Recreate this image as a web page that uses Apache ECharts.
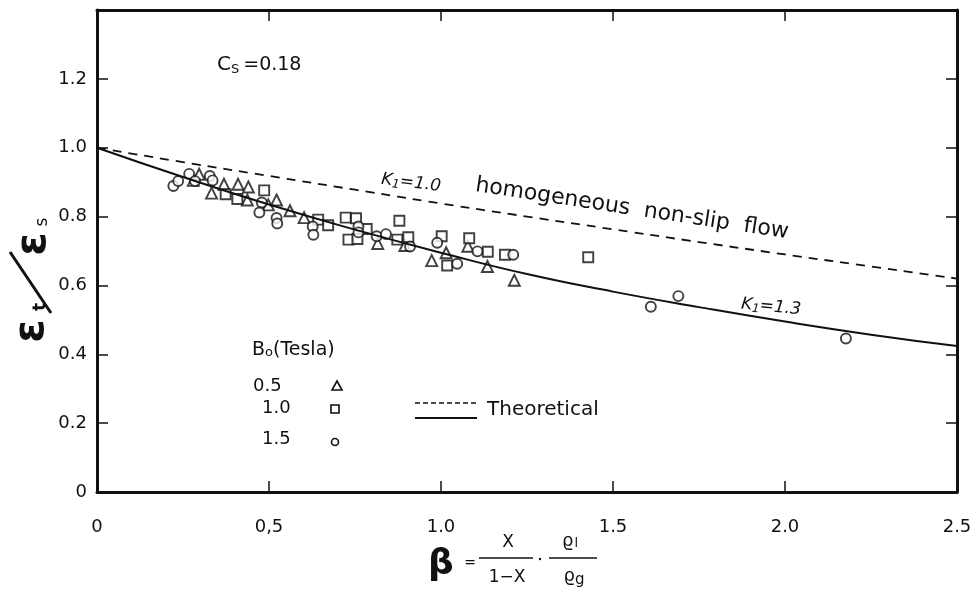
<!DOCTYPE html>
<html>
<head>
<meta charset="utf-8">
<title>Void fraction ratio vs beta</title>
<script src="https://cdn.jsdelivr.net/npm/echarts@6/dist/echarts.min.js"></script>
<style>
  html, body { margin: 0; padding: 0; background: #fff; }
  #chart { width: 976px; height: 591px; }
</style>
</head>
<body>
<div id="chart"></div>
<script>
// Tick labels
const xTickLabels = ['0', '0,5', '1.0', '1.5', '2.0', '2.5'];
const yTickLabels = ['0', '0.2', '0.4', '0.6', '0.8', '1.0', '1.2', ''];

// Measured points [beta, eps_t/eps_s] for each magnetic field B0 (Tesla)
const b05 = [
  [0.280, 0.905], [0.297, 0.923], [0.333, 0.868], [0.369, 0.894], [0.410, 0.894],
  [0.440, 0.886], [0.437, 0.848], [0.498, 0.834], [0.522, 0.848], [0.561, 0.817],
  [0.602, 0.797], [0.816, 0.722], [0.895, 0.716], [0.973, 0.672], [1.015, 0.695],
  [1.078, 0.714], [1.135, 0.655], [1.213, 0.615]
];
const b10 = [
  [0.374, 0.865], [0.408, 0.851], [0.486, 0.876], [0.643, 0.791], [0.672, 0.775],
  [0.723, 0.797], [0.753, 0.795], [0.731, 0.733], [0.757, 0.735], [0.784, 0.764],
  [0.879, 0.788], [0.873, 0.733], [0.905, 0.740], [1.002, 0.743], [1.018, 0.658],
  [1.082, 0.737], [1.136, 0.698], [1.186, 0.689], [1.428, 0.682]
];
const b15 = [
  [0.222, 0.889], [0.236, 0.903], [0.268, 0.924], [0.285, 0.903], [0.328, 0.918],
  [0.336, 0.905], [0.479, 0.841], [0.472, 0.812], [0.522, 0.796], [0.524, 0.780],
  [0.627, 0.771], [0.629, 0.747], [0.760, 0.771], [0.760, 0.754], [0.813, 0.743],
  [0.840, 0.749], [0.910, 0.713], [0.989, 0.724], [1.047, 0.663], [1.106, 0.699],
  [1.210, 0.689], [1.610, 0.538], [1.690, 0.569], [2.177, 0.446]
];

// Theoretical curves
const curveBeta = [0, 0.25, 0.5, 0.75, 1.0, 1.25, 1.5, 1.75, 2.0, 2.25, 2.5];
const k10 = [1.0, 0.958, 0.918, 0.878, 0.838, 0.800, 0.763, 0.726, 0.690, 0.655, 0.620];
const k13 = [1.0, 0.915, 0.835, 0.762, 0.695, 0.633, 0.582, 0.537, 0.495, 0.457, 0.424];

const FONT = 'DejaVu Sans';
const INK = '#111';

const chart = echarts.init(document.getElementById('chart'), null, { renderer: 'canvas' });

const markerStyle = { color: '#fff', borderColor: INK, borderWidth: 1.9 };

function frameAxis(extra) {
  return Object.assign({
    type: 'value',
    splitLine: { show: false },
    axisLine: { show: true, onZero: false, lineStyle: { color: INK, width: 3 } },
    axisTick: { show: true, inside: true, length: 11, lineStyle: { color: INK, width: 1.5 } }
  }, extra);
}

const kRich = {
  a: { fontFamily: FONT, fontStyle: 'italic', fontSize: 17, fill: INK },
  s: { fontFamily: FONT, fontStyle: 'italic', fontSize: 12, fill: INK, padding: [7, 0, 0, 0] }
};

const option = {
  backgroundColor: '#fff',
  animation: false,
  grid: { left: 97, right: 19, top: 10, bottom: 99 },
  xAxis: [
    frameAxis({
      position: 'bottom', min: 0, max: 2.5, interval: 0.5,
      axisLabel: {
        margin: 26, color: INK, fontFamily: FONT, fontSize: 18,
        formatter: v => xTickLabels[Math.round(v / 0.5)]
      }
    }),
    frameAxis({
      position: 'top', min: 0, max: 2.5, interval: 0.5,
      axisLabel: { show: false }
    })
  ],
  yAxis: [
    frameAxis({
      position: 'left', min: 0, max: 1.4, interval: 0.2,
      axisLabel: {
        margin: 10, color: INK, fontFamily: FONT, fontSize: 18,
        formatter: v => yTickLabels[Math.round(v / 0.2)]
      }
    }),
    frameAxis({
      position: 'right', min: 0, max: 1.4, interval: 0.2,
      axisLabel: { show: false }
    })
  ],
  series: [
    {
      name: 'K1=1.0', type: 'line', smooth: true, symbol: 'none',
      data: curveBeta.map((b, i) => [b, k10[i]]),
      lineStyle: { color: INK, width: 1.8, type: [9, 7] }
    },
    {
      name: 'K1=1.3', type: 'line', smooth: true, symbol: 'none',
      data: curveBeta.map((b, i) => [b, k13[i]]),
      lineStyle: { color: INK, width: 2 }
    },
    { name: '0.5', type: 'scatter', symbol: 'triangle', symbolSize: 11, data: b05, itemStyle: markerStyle },
    { name: '1.0', type: 'scatter', symbol: 'rect', symbolSize: 10, data: b10, itemStyle: markerStyle },
    { name: '1.5', type: 'scatter', symbol: 'circle', symbolSize: 10, data: b15, itemStyle: markerStyle }
  ],
  graphic: [
    // Cs = 0.18
    {
      type: 'text', left: 217, top: 55,
      style: {
        text: '{a|C}{s|S}{b|=0.18}', fill: INK,
        rich: {
          a: { fontFamily: FONT, fontSize: 20, fill: INK },
          s: { fontFamily: FONT, fontSize: 13, fill: INK, padding: [10, 0, 0, 0] },
          b: { fontFamily: FONT, fontSize: 19, fill: INK, padding: [0, 0, 0, 4] }
        }
      }
    },
    // curve annotations
    {
      type: 'text', x: 411, y: 183, rotation: -0.12,
      style: { text: '{a|K}{s|1}{a|=1.0}', align: 'center', verticalAlign: 'middle', rich: kRich }
    },
    {
      type: 'text', x: 632, y: 209, rotation: -0.15,
      style: {
        text: 'homogeneous  non-slip  flow', align: 'center', verticalAlign: 'middle',
        fontFamily: FONT, fontSize: 22, fill: INK
      }
    },
    {
      type: 'text', x: 771, y: 307, rotation: -0.1,
      style: { text: '{a|K}{s|1}{a|=1.3}', align: 'center', verticalAlign: 'middle', rich: kRich }
    },
    // field legend
    {
      type: 'text', left: 252, top: 341,
      style: {
        text: '{a|B}{s|o}{a|(Tesla)}',
        rich: {
          a: { fontFamily: FONT, fontSize: 19, fill: INK },
          s: { fontFamily: FONT, fontSize: 13, fill: INK, padding: [4, 0, 0, 0] }
        }
      }
    },
    { type: 'text', left: 253, top: 377, style: { text: '0.5', fontFamily: FONT, fontSize: 18, fill: INK } },
    { type: 'text', left: 262, top: 399, style: { text: '1.0', fontFamily: FONT, fontSize: 18, fill: INK } },
    { type: 'text', left: 262, top: 430, style: { text: '1.5', fontFamily: FONT, fontSize: 18, fill: INK } },
    {
      type: 'polygon', shape: { points: [[337, 381], [332, 390], [342, 390]] },
      style: { fill: '#fff', stroke: INK, lineWidth: 1.6 }
    },
    { type: 'rect', shape: { x: 331, y: 405, width: 8, height: 8 }, style: { fill: '#fff', stroke: INK, lineWidth: 1.6 } },
    { type: 'circle', shape: { cx: 335, cy: 442, r: 3.5 }, style: { fill: '#fff', stroke: INK, lineWidth: 1.6 } },
    // theoretical legend
    {
      type: 'line', shape: { x1: 415, y1: 403, x2: 477, y2: 403 },
      style: { stroke: INK, lineWidth: 1.5, lineDash: [5, 3] }
    },
    { type: 'line', shape: { x1: 415, y1: 418, x2: 477, y2: 418 }, style: { stroke: INK, lineWidth: 1.8 } },
    { type: 'text', left: 487, top: 400, style: { text: 'Theoretical', fontFamily: FONT, fontSize: 20, fill: INK } },
    // y-axis title: eps_t / eps_s
    {
      type: 'text', x: 32, y: 331, rotation: Math.PI / 2,
      style: { text: 'ε', align: 'center', verticalAlign: 'middle', fontFamily: FONT, fontWeight: 'bold', fontSize: 42, fill: INK }
    },
    {
      type: 'text', x: 41, y: 307, rotation: Math.PI / 2,
      style: { text: 't', align: 'center', verticalAlign: 'middle', fontFamily: FONT, fontWeight: 'bold', fontSize: 17, fill: INK }
    },
    { type: 'line', shape: { x1: 10, y1: 252, x2: 51, y2: 313 }, style: { stroke: INK, lineWidth: 3 } },
    {
      type: 'text', x: 34, y: 244, rotation: Math.PI / 2,
      style: { text: 'ε', align: 'center', verticalAlign: 'middle', fontFamily: FONT, fontWeight: 'bold', fontSize: 42, fill: INK }
    },
    {
      type: 'text', x: 43, y: 222, rotation: Math.PI / 2,
      style: { text: 's', align: 'center', verticalAlign: 'middle', fontFamily: FONT, fontSize: 17, fill: INK }
    },
    // x-axis title: beta = X/(1-X) . rho_l/rho_g
    {
      type: 'text', x: 441, y: 565,
      style: { text: 'β', align: 'center', verticalAlign: 'middle', fontFamily: FONT, fontWeight: 'bold', fontSize: 36, fill: INK }
    },
    {
      type: 'text', x: 470, y: 563,
      style: { text: '=', align: 'center', verticalAlign: 'middle', fontFamily: FONT, fontSize: 14, fill: INK }
    },
    {
      type: 'text', x: 508, y: 543,
      style: { text: 'X', align: 'center', verticalAlign: 'middle', fontFamily: FONT, fontSize: 17, fill: INK }
    },
    { type: 'line', shape: { x1: 479, y1: 558, x2: 533, y2: 558 }, style: { stroke: INK, lineWidth: 1.4 } },
    {
      type: 'text', x: 507, y: 578,
      style: { text: '1−X', align: 'center', verticalAlign: 'middle', fontFamily: FONT, fontSize: 17, fill: INK }
    },
    { type: 'circle', shape: { cx: 540, cy: 559, r: 1.2 }, style: { fill: INK } },
    {
      type: 'text', x: 570, y: 541,
      style: { text: '{a|ϱ}{s|l}', align: 'center', verticalAlign: 'middle',
        rich: { a: { fontFamily: FONT, fontSize: 18, fill: INK }, s: { fontFamily: FONT, fontSize: 13, fill: INK, padding: [6, 0, 0, 1] } } }
    },
    { type: 'line', shape: { x1: 549, y1: 558, x2: 597, y2: 558 }, style: { stroke: INK, lineWidth: 1.4 } },
    {
      type: 'text', x: 574, y: 576,
      style: { text: '{a|ϱ}{s|g}', align: 'center', verticalAlign: 'middle',
        rich: { a: { fontFamily: FONT, fontSize: 18, fill: INK }, s: { fontFamily: FONT, fontSize: 15, fill: INK, padding: [8, 0, 0, 0] } } }
    }
  ]
};

chart.setOption(option);
</script>
</body>
</html>
